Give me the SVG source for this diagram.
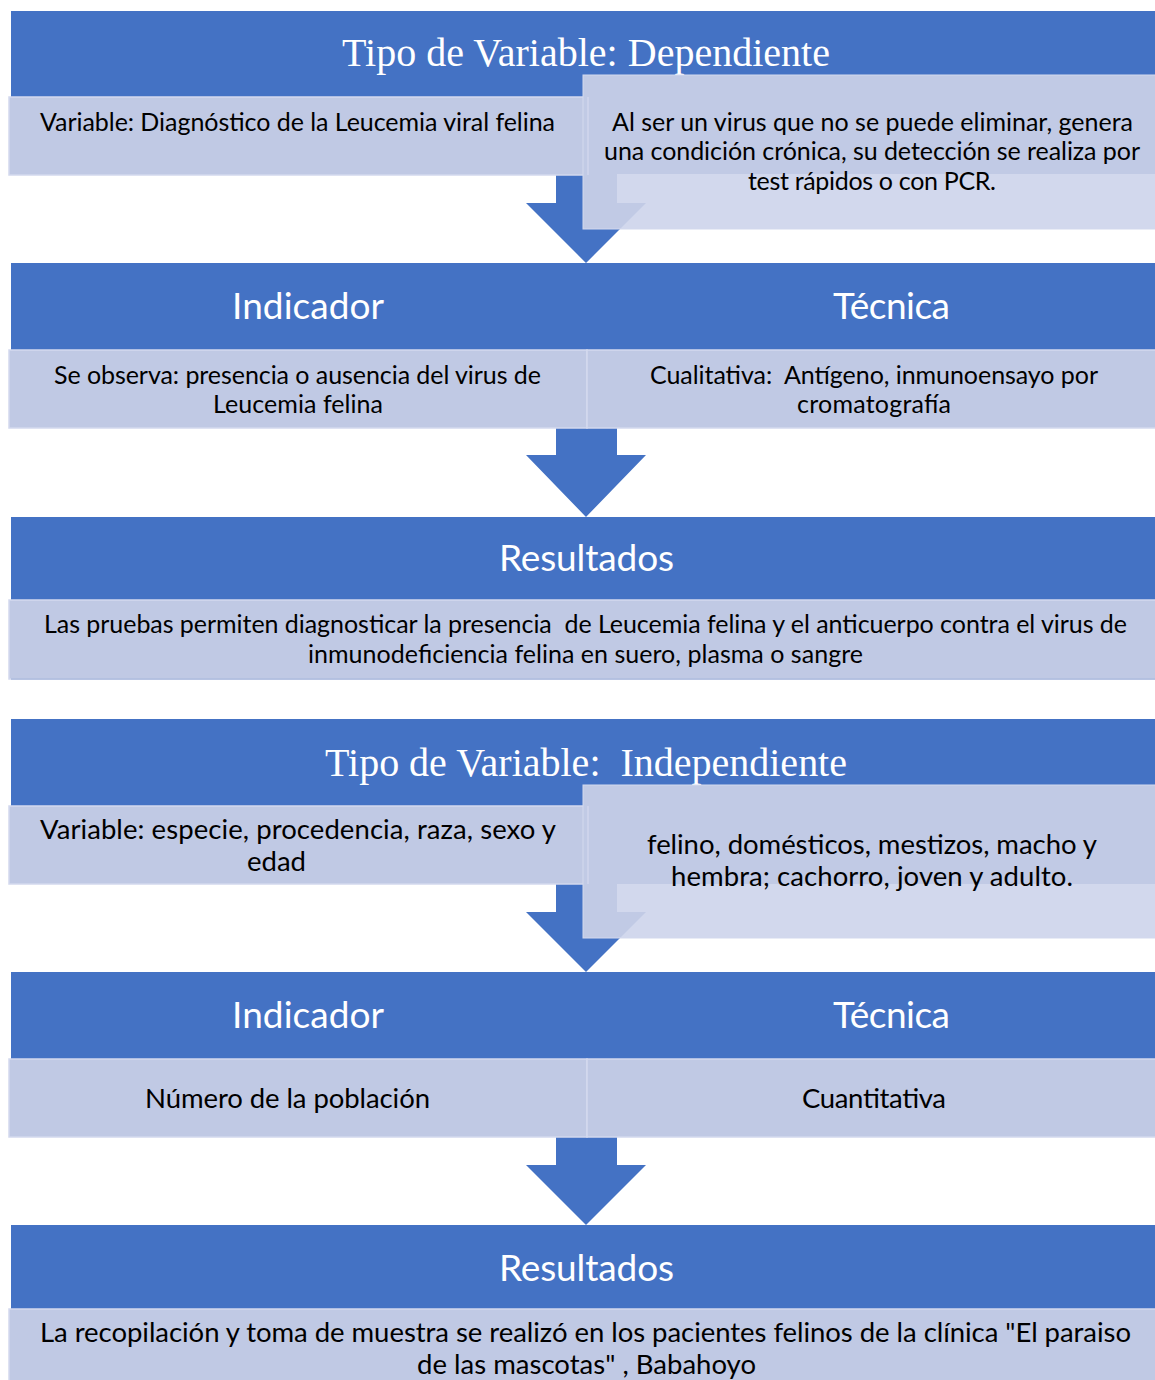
<svg xmlns="http://www.w3.org/2000/svg" width="1155" height="1380" viewBox="0 0 1155 1380">
<style>
.hdr{fill:#4472c4}
.box{fill:#c0c9e4;stroke:#d3d9ee;stroke-width:1.5}
.arrow{fill:#4472c4}
.call{fill:#c1cae5;stroke:#d3d9ee;stroke-width:1}
.light{fill:#d2d8ed}
.seam{stroke:#d0d6ec;stroke-width:1.5}
.ttl{font-family:"Liberation Serif","Times New Roman",serif;font-size:40px;fill:#ffffff;text-anchor:middle;white-space:pre}
.h{font-family:Lato,"Liberation Sans",sans-serif;font-size:37px;fill:#ffffff;text-anchor:middle}
.a{font-family:Lato,"Liberation Sans",sans-serif;font-size:25px;fill:#000000;text-anchor:middle;white-space:pre}
.b{font-family:Lato,"Liberation Sans",sans-serif;font-size:27.5px;fill:#000000;text-anchor:middle;white-space:pre}
</style>
<rect width="1155" height="1380" fill="#ffffff"/>

<g id="connectors">
  <polygon class="arrow" points="556,175 617,175 617,203 646,203 586,263 526,203 556,203"/>
  <polygon class="arrow" points="556,428 617,428 617,455 646,455 586,517 526,455 556,455"/>
  <polygon class="arrow" points="556,884 617,884 617,912 646,912 586,972 526,912 556,912"/>
  <polygon class="arrow" points="556,1137 617,1137 617,1165 646,1165 586,1225 526,1165 556,1165"/>
</g>

<g id="header-dependiente">
  <rect class="hdr" x="11" y="11" width="1150" height="86"/>
  <text class="ttl" x="586" y="66" textLength="488">Tipo de Variable: Dependiente</text>
</g>
<g id="variable-dependiente">
  <rect class="box" x="9" y="97" width="579" height="78"/>
  <text class="a" x="297.5" y="131" textLength="515">Variable: Diagnóstico de la Leucemia viral felina</text>
</g>
<g id="nota-dependiente">
  <rect class="call" x="583" y="75" width="580" height="154"/>
  <polygon class="light" points="617,174 1160,174 1160,229 620,229 646,203 617,203"/>
  <line class="seam" x1="588" y1="97" x2="588" y2="175"/>
  <text class="a" x="872.5" y="131" textLength="521">Al ser un virus que no se puede eliminar, genera</text>
  <text class="a" x="872" y="160" textLength="536">una condición crónica, su detección se realiza por</text>
  <text class="a" x="872" y="190" textLength="248">test rápidos o con PCR.</text>
</g>

<g id="header-indicador-tecnica-1">
  <rect class="hdr" x="11" y="263" width="1150" height="87"/>
  <text class="h" x="308" y="319" textLength="152">Indicador</text>
  <text class="h" x="891.5" y="319" textLength="117">Técnica</text>
</g>
<g id="indicador-1">
  <rect class="box" x="9" y="350" width="578" height="78"/>
  <text class="a" x="297.5" y="384" textLength="487">Se observa: presencia o ausencia del virus de</text>
  <text class="a" x="298" y="413" textLength="170">Leucemia felina</text>
</g>
<g id="tecnica-1">
  <rect class="box" x="587" y="350" width="574" height="78"/>
  <text class="a" x="874" y="384" textLength="448">Cualitativa:  Antígeno, inmunoensayo por</text>
  <text class="a" x="874" y="413" textLength="154">cromatografía</text>
</g>

<g id="resultados-1">
  <rect class="hdr" x="11" y="517" width="1150" height="83"/>
  <text class="h" x="586.5" y="571" textLength="175">Resultados</text>
  <rect class="box" x="9" y="600" width="1152" height="79"/>
  <line x1="11" y1="679" x2="1155" y2="679" stroke="#aab9dc" stroke-width="1.5"/>
  <text class="a" x="585.5" y="633" textLength="1083">Las pruebas permiten diagnosticar la presencia  de Leucemia felina y el anticuerpo contra el virus de</text>
  <text class="a" x="585.5" y="663" textLength="555">inmunodeficiencia felina en suero, plasma o sangre</text>
</g>

<g id="header-independiente">
  <rect class="hdr" x="11" y="719" width="1150" height="87"/>
  <text class="ttl" x="586" y="776" textLength="522">Tipo de Variable:  Independiente</text>
</g>
<g id="variable-independiente">
  <rect class="box" x="9" y="806" width="579" height="78"/>
  <text class="b" x="298" y="839" textLength="516">Variable: especie, procedencia, raza, sexo y</text>
  <text class="b" x="276.5" y="871" textLength="59">edad</text>
</g>
<g id="nota-independiente">
  <rect class="call" x="583" y="785" width="580" height="153"/>
  <polygon class="light" points="617,884 1160,884 1160,938 620,938 646,912 617,912"/>
  <line class="seam" x1="588" y1="806" x2="588" y2="884"/>
  <text class="b" x="872" y="854" textLength="450">felino, domésticos, mestizos, macho y</text>
  <text class="b" x="872" y="886" textLength="402">hembra; cachorro, joven y adulto.</text>
</g>

<g id="header-indicador-tecnica-2">
  <rect class="hdr" x="11" y="972" width="1150" height="87"/>
  <text class="h" x="308" y="1028" textLength="152">Indicador</text>
  <text class="h" x="891.5" y="1028" textLength="117">Técnica</text>
</g>
<g id="indicador-2">
  <rect class="box" x="9" y="1059" width="578" height="78"/>
  <text class="b" x="287.5" y="1108" textLength="285">Número de la población</text>
</g>
<g id="tecnica-2">
  <rect class="box" x="587" y="1059" width="574" height="78"/>
  <text class="b" x="874" y="1108" textLength="144">Cuantitativa</text>
</g>

<g id="resultados-2">
  <rect class="hdr" x="11" y="1225" width="1150" height="84"/>
  <text class="h" x="586.5" y="1281" textLength="175">Resultados</text>
  <rect class="box" x="9" y="1309" width="1152" height="80"/>
  <text class="b" x="585.5" y="1342" textLength="1091">La recopilación y toma de muestra se realizó en los pacientes felinos de la clínica "El paraiso</text>
  <text class="b" x="586.5" y="1374" textLength="339">de las mascotas" , Babahoyo</text>
</g>
</svg>
